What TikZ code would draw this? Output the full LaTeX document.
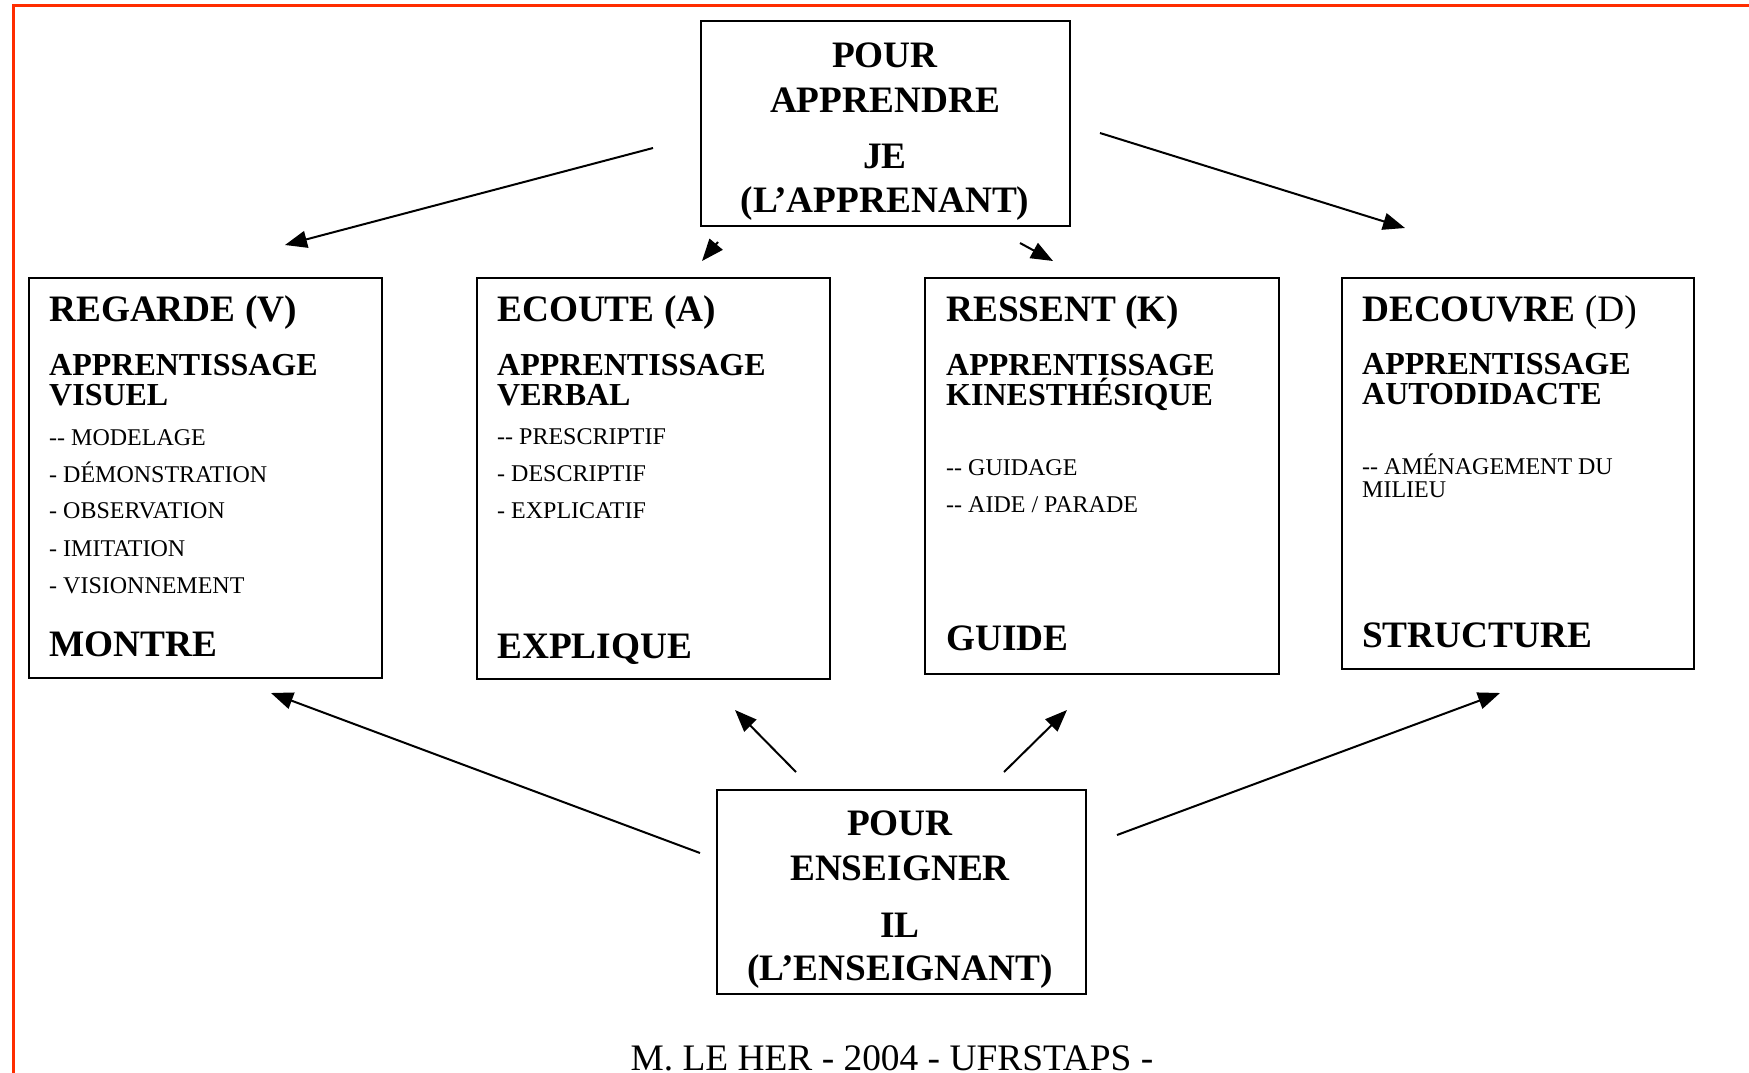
\documentclass[tikz,border=0pt]{standalone}
\usepackage{fontspec}
\setmainfont{Liberation Serif}
\usetikzlibrary{arrows.meta}
\definecolor{framered}{RGB}{255,45,0}
\begin{document}
\begin{tikzpicture}[x=1pt,y=-1pt,
  box/.style={draw,line width=2pt,anchor=north west,inner sep=0pt},
  lbl/.style={anchor=base west,inner sep=0pt},
  ctr/.style={anchor=base,inner sep=0pt},
  ttl/.style={font=\fontsize{37.3}{37}\selectfont\bfseries},
  sub/.style={font=\fontsize{32}{32}\selectfont\bfseries},
  itm/.style={font=\fontsize{24}{24}\selectfont},
  arr/.style={line width=2pt,-{Triangle[length=22pt,width=17pt]}}]
\useasboundingbox (0,0) rectangle (1749,1072);
\fill[white] (0,0) rectangle (1749,1072);
\draw[framered,line width=3pt] (13,1090) -- (13,5) -- (1770,5);

% main boxes
\node[box,minimum width=369pt,minimum height=205pt] (top) at (700,20) {};
\node[box,minimum width=369pt,minimum height=204pt] (bot) at (716,789) {};
\node[box,minimum width=353pt,minimum height=400pt] (b1) at (28,277) {};
\node[box,minimum width=353pt,minimum height=401pt] (b2) at (476,277) {};
\node[box,minimum width=354pt,minimum height=396pt] (b3) at (924,277) {};
\node[box,minimum width=352pt,minimum height=391pt] (b4) at (1341,277) {};

% top box text
\node[ctr,ttl] (t1) at (885,67) {POUR};
\node[ctr,ttl] (t2) at (885,112) {APPRENDRE};
\node[ctr,ttl] (t3) at (885,168) {JE};
\node[ctr,ttl] (t4) at (885,212) {(L’APPRENANT)};

% bottom box text
\node[ctr,ttl] (u1) at (900,835) {POUR};
\node[ctr,ttl] (u2) at (900,880) {ENSEIGNER};
\node[ctr,ttl] (u3) at (900,937) {IL};
\node[ctr,ttl] (u4) at (900,980) {(L’ENSEIGNANT)};

% box 1
\node[lbl,ttl] (v1) at (49,321) {REGARDE (V)};
\node[lbl,sub] (v2) at (49,375) {APPRENTISSAGE};
\node[lbl,sub] (v3) at (49,405) {VISUEL};
\node[lbl,itm] (v4) at (49,445) {-{}- MODELAGE};
\node[lbl,itm] (v5) at (49,482) {- DÉMONSTRATION};
\node[lbl,itm] (v6) at (49,518) {- OBSERVATION};
\node[lbl,itm] (v7) at (49,556) {- IMITATION};
\node[lbl,itm] (v8) at (49,593) {- VISIONNEMENT};
\node[lbl,ttl] (v9) at (49,656) {MONTRE};

% box 2
\node[lbl,ttl] (a1) at (497,321) {ECOUTE (A)};
\node[lbl,sub] (a2) at (497,375) {APPRENTISSAGE};
\node[lbl,sub] (a3) at (497,405) {VERBAL};
\node[lbl,itm] (a4) at (497,444) {-{}- PRESCRIPTIF};
\node[lbl,itm] (a5) at (497,481) {- DESCRIPTIF};
\node[lbl,itm] (a6) at (497,518) {- EXPLICATIF};
\node[lbl,ttl] (a7) at (497,658) {EXPLIQUE};

% box 3
\node[lbl,ttl] (k1) at (946,321) {RESSENT (K)};
\node[lbl,sub] (k2) at (946,375) {APPRENTISSAGE};
\node[lbl,sub] (k3) at (946,405) {KINESTHÉSIQUE};
\node[lbl,itm] (k4) at (946,475) {-{}- GUIDAGE};
\node[lbl,itm] (k5) at (946,512) {-{}- AIDE / PARADE};
\node[lbl,ttl] (k6) at (946,650) {GUIDE};

% box 4
\node[lbl,ttl] (d1) at (1362,321) {DECOUVRE \mdseries(D)};
\node[lbl,sub] (d2) at (1362,374) {APPRENTISSAGE};
\node[lbl,sub] (d3) at (1362,404) {AUTODIDACTE};
\node[lbl,itm] (d4) at (1362,474) {-{}- AMÉNAGEMENT DU};
\node[lbl,itm] (d5) at (1362,497) {MILIEU};
\node[lbl,ttl] (d6) at (1362,647) {STRUCTURE};

% footer
\node[ctr,font=\fontsize{37.4}{37}\selectfont] (foot) at (892,1070) {M. LE HER - 2004 - UFRSTAPS -};

% arrow end points
\coordinate (a1s) at (653,148); \coordinate (a1e) at (285,245);
\coordinate (a2s) at (718,242); \coordinate (a2e) at (702,261);
\coordinate (a3s) at (1020,243); \coordinate (a3e) at (1053,261);
\coordinate (a4s) at (1100,133); \coordinate (a4e) at (1405,228);
\coordinate (b1s) at (700,853); \coordinate (b1e) at (271,693);
\coordinate (b2s) at (796,772); \coordinate (b2e) at (735,710);
\coordinate (b3s) at (1004,772); \coordinate (b3e) at (1067,710);
\coordinate (b4s) at (1117,835); \coordinate (b4e) at (1500,693);

\draw[arr] (a1s) -- (a1e);
\draw[arr] (a2s) -- (a2e);
\draw[arr] (a3s) -- (a3e);
\draw[arr] (a4s) -- (a4e);
\draw[arr] (b1s) -- (b1e);
\draw[arr] (b2s) -- (b2e);
\draw[arr] (b3s) -- (b3e);
\draw[arr] (b4s) -- (b4e);
\end{tikzpicture}
\end{document}
